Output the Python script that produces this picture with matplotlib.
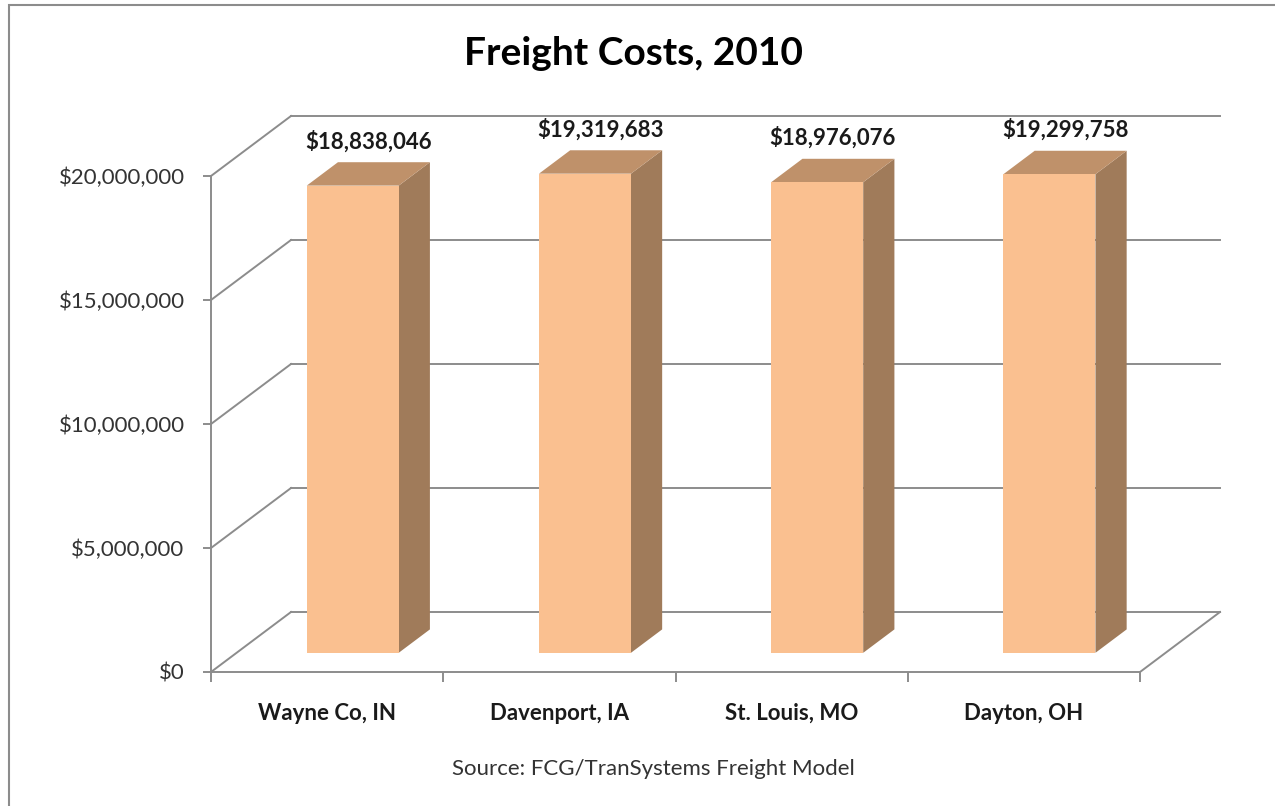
import matplotlib.pyplot as plt
from matplotlib.patches import Polygon, Rectangle
from matplotlib.ticker import FuncFormatter

# Freight costs by site, 2010
sites = ["Wayne Co, IN", "Davenport, IA", "St. Louis, MO", "Dayton, OH"]
costs = [18838046, 19319683, 18976076, 19299758]
y_ticks = [0, 5000000, 10000000, 15000000, 20000000]

plt.rcParams['font.family'] = ['Lato', 'DejaVu Sans']

W, H = 1275, 806
fig = plt.figure(figsize=(W / 100, H / 100), dpi=100)
ax = fig.add_axes([0, 0, 1, 1])

# pixel layout of the plot box -> axis limits
x0_px, x1_px = 211, 1140
y0_px, y20_px = 672, 176
px_per_cat = (x1_px - x0_px) / len(sites)
px_per_usd = (y0_px - y20_px) / 20e6
ax.set_xlim(-x0_px / px_per_cat, (W - x0_px) / px_per_cat)
ax.set_ylim(-(H - y0_px) / px_per_usd, y0_px / px_per_usd)

# oblique depth offset (80 px right, 60 px up for full depth)
DX = 80 / px_per_cat
DY = 60 / px_per_usd
grid_c = "#8c8c8c"
lw = 1.4
ymax = y_ticks[-1]
n = len(sites)

# back wall gridlines and side-wall slants
for t in y_ticks:
    ax.plot([DX, n + DX], [t + DY, t + DY], color=grid_c, lw=lw, zorder=1)
    ax.plot([0, DX], [t, t + DY], color=grid_c, lw=lw, zorder=1)
# floor right edge
ax.plot([n, n + DX], [0, DY], color=grid_c, lw=lw, zorder=1)

# bars
z0, z1 = 0.32, 0.71
bw = 0.396
front_c, top_c, side_c = "#fac090", "#bf916a", "#a07b5a"
for i, v in enumerate(costs):
    c = i + 0.5
    l, r = c - bw / 2, c + bw / 2
    front = Rectangle((l + z0 * DX, z0 * DY), bw, v, facecolor=front_c,
                      edgecolor="none", zorder=3)
    top = Polygon([(l + z0 * DX, v + z0 * DY), (r + z0 * DX, v + z0 * DY),
                   (r + z1 * DX, v + z1 * DY), (l + z1 * DX, v + z1 * DY)],
                  closed=True, facecolor=top_c, edgecolor="none", zorder=3)
    side = Polygon([(r + z0 * DX, z0 * DY), (r + z1 * DX, z1 * DY),
                    (r + z1 * DX, v + z1 * DY), (r + z0 * DX, v + z0 * DY)],
                   closed=True, facecolor=side_c, edgecolor="none", zorder=3)
    for p in (side, top, front):
        ax.add_patch(p)
    ax.text(c + (z0 + z1) / 2 * DX, v + z1 * DY + 14 / px_per_usd,
            "${:,.0f}".format(v), ha="center", va="baseline",
            fontsize=16, fontweight="bold", color="#1a1a1a", zorder=4)

# axes
for s in ("top", "right"):
    ax.spines[s].set_visible(False)
for s in ("left", "bottom"):
    ax.spines[s].set_position(("data", 0))
    ax.spines[s].set_color(grid_c)
    ax.spines[s].set_linewidth(lw)
ax.spines["left"].set_bounds(0, ymax)
ax.spines["bottom"].set_bounds(0, n)

ax.set_yticks(y_ticks)
ax.yaxis.set_major_formatter(FuncFormatter(lambda v, p: "${:,.0f}".format(v)))
ax.tick_params(axis="y", direction="out", length=6, width=lw, color=grid_c,
               pad=13, labelsize=16, labelcolor="#333333")

ax.set_xticks(range(n + 1))
ax.set_xticklabels([])
ax.set_xticks([i + 0.5 for i in range(n)], minor=True)
ax.set_xticklabels(sites, minor=True, fontweight="bold", fontsize=16,
                   color="#1a1a1a")
ax.tick_params(axis="x", which="major", direction="out", length=7, width=lw,
               color=grid_c)
ax.tick_params(axis="x", which="minor", length=0, pad=22)

# chart border
fig.patches.append(Rectangle((9 / W, -0.01), 1.0, 1 - 5 / H + 0.01,
                             transform=fig.transFigure, fill=False,
                             edgecolor="#8c8c8c", lw=1.5))

fig.text(0.497, 1 - 65 / H, "Freight Costs, 2010", ha="center",
         va="baseline", fontsize=28, fontweight="bold", color="black")
fig.text(653 / W, 1 - 775 / H, "Source: FCG/TranSystems Freight Model",
         ha="center", va="baseline", fontsize=16, color="#333333")

fig.savefig("out.png", dpi=100)
